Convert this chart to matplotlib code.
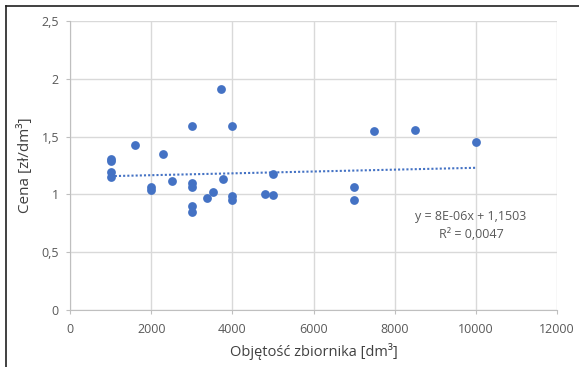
import matplotlib
matplotlib.use("Agg")
import matplotlib.pyplot as plt
import numpy as np
from matplotlib.lines import Line2D

# volume [dm3] and price [zl/dm3]
objetosc = [1000, 1000, 1000, 1000, 1600, 2000, 2000, 2280, 2500,
            3000, 3000, 3000, 3000, 3000, 3380, 3520, 3720, 3780,
            4000, 4000, 4000, 4800, 5000, 5000, 7000, 7000, 7500,
            8500, 10000]
cena = [1.31, 1.29, 1.19, 1.15, 1.43, 1.065, 1.04, 1.35, 1.12,
        1.59, 1.095, 1.06, 0.90, 0.845, 0.97, 1.02, 1.91, 1.13,
        1.59, 0.99, 0.955, 1.0, 0.995, 1.18, 1.065, 0.955, 1.545,
        1.555, 1.455]
trend_a, trend_b = 8e-6, 1.1503
r2 = 0.0047

xticks = [0, 2000, 4000, 6000, 8000, 10000, 12000]
yticks = [0, 0.5, 1, 1.5, 2, 2.5]
ytick_labels = ["0", "0,5", "1", "1,5", "2", "2,5"]

plt.rcParams['font.family'] = ['Open Sans', 'DejaVu Sans']
gray = '#595959'
blue = '#4472C4'

fig = plt.figure(figsize=(5.79, 3.67), dpi=100)
ax = fig.add_axes([0.121, 0.155, 0.841, 0.788])

ax.scatter(objetosc, cena, s=40, color=blue, zorder=3, linewidths=0)
tx = np.array([min(objetosc), max(objetosc)])
ax.plot(tx, trend_a * tx + trend_b, color=blue, linestyle=(0, (1, 1)),
        linewidth=1.5, zorder=2)

ax.set_xlim(0, 12000)
ax.set_ylim(0, 2.5)
ax.set_xticks(xticks)
ax.set_xticklabels([str(v) for v in xticks])
ax.set_yticks(yticks)
ax.set_yticklabels(ytick_labels)
ax.grid(True, color='#d9d9d9', linewidth=1)
ax.set_axisbelow(True)
for side in ['top', 'right']:
    ax.spines[side].set_visible(False)
for side in ['left', 'bottom']:
    ax.spines[side].set_color('#bfbfbf')
ax.tick_params(colors='#bfbfbf', labelcolor=gray, labelsize=9, length=3)
ax.tick_params(axis='x', pad=6)
ax.tick_params(axis='y', pad=5)

ax.set_xlabel('Objętość zbiornika [dm³]', color='#404040', fontsize=10.5, labelpad=5)
ax.set_ylabel('Cena [zł/dm³]', color='#404040', fontsize=11, labelpad=6)

ax.text(9880, 0.806, 'y = 8E-06x + 1,1503', color=gray, fontsize=9,
        ha='center', va='center')
ax.text(9900, 0.656, 'R² = ' + f'{r2:.4f}'.replace('.', ','), color=gray,
        fontsize=9, ha='center', va='center')

# frame around the picture (left and top edges visible)
fig.add_artist(Line2D([0.011, 0.011], [0, 0.984], color='#202020', linewidth=1.2))
fig.add_artist(Line2D([0.011, 1], [0.984, 0.984], color='#202020', linewidth=1.2))

fig.savefig('out.png', dpi=100)
